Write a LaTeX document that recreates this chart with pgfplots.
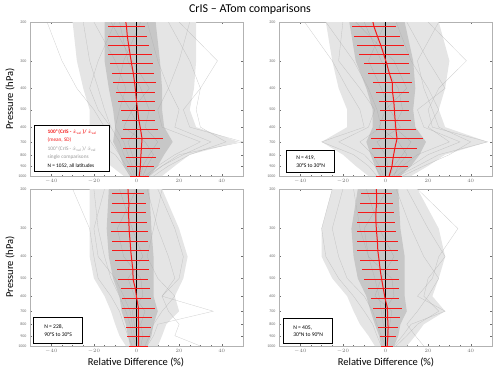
\documentclass[border=0pt]{standalone}
\usepackage{pgfplots}
\pgfplotsset{compat=1.18}
\usepackage{pgfplotstable}
\usepackage{fontspec}
\setmainfont{Carlito}
\definecolor{mred}{RGB}{245,25,25}
\definecolor{tickgray}{RGB}{110,110,110}

% mean and SD per level: p  mean  sd
\pgfplotstableread{
p m s
200 -5.0 0
210 -4.7 8.8
232 -4.3 9.2
255 -3.7 9.8
281 -3.0 10.2
310 -2.3 10.1
342 -1.5 9.8
377 -0.9 9.9
416 -0.4 9.0
458 0.0 8.5
505 0.6 8.0
557 1.1 7.8
614 1.9 8.1
677 2.6 10.0
746 2.3 8.5
823 2.0 7.0
907 1.8 6.2
1000 1.3 4.5
}\meanA
\pgfplotstableread{
p m s
200 -5.9 0
210 -5.4 10.5
232 -3.8 10.8
255 -2.2 11.0
281 -0.8 11.6
310 0.6 10.6
342 1.8 9.8
377 3.2 9.3
416 3.3 7.8
458 3.9 7.0
505 4.2 6.7
557 4.5 7.3
614 4.9 9.4
677 5.4 12.4
746 4.4 10.6
823 3.6 9.0
907 3.0 7.5
1000 1.7 6.0
}\meanB
\pgfplotstableread{
p m s
200 -4.0 0
210 -3.9 7.5
232 -3.6 7.9
255 -3.7 8.3
281 -3.6 8.6
310 -3.4 8.6
342 -3.0 8.6
377 -2.7 8.6
416 -2.2 8.1
458 -1.7 7.6
505 -1.6 7.0
557 -0.5 6.9
614 0.1 6.9
677 0.9 7.7
746 0.9 6.6
823 1.0 6.0
907 1.0 5.4
1000 1.0 4.4
}\meanC
\pgfplotstableread{
p m s
200 -4.3 0
210 -4.2 7.2
232 -4.2 7.8
255 -4.5 8.5
281 -4.5 9.0
310 -4.2 9.2
342 -3.8 9.5
377 -3.6 9.6
416 -3.0 9.0
458 -2.5 8.5
505 -1.8 8.3
557 -1.0 7.2
614 -0.2 6.7
677 0.9 6.8
746 1.0 5.6
823 1.2 4.6
907 1.1 3.8
1000 0.8 2.8
}\meanD

\pgfplotsset{
  mypanel/.style={
    scale only axis, width=213pt,
    xmin=-50, xmax=50, ymin=200, ymax=1000,
    xtick={-40,-20,0,20,40}, minor x tick num=3,
    ytick={200,300,400,500,600,700,800,900,1000},
    yticklabels={200,300,400,500,600,700,800,900,1000},
    yminorticks=false,
    tick align=inside, major tick length=2pt, minor tick length=1pt,
    tick style={tickgray, line width=0.3pt},
    axis line style={gray!60, line width=0.4pt},
    ticklabel style={font=\fontsize{4}{5}\selectfont, text=tickgray},
  },
  envout/.style={fill=gray!20, draw=none},
  envcore/.style={fill=gray!44, draw=none},
  oneline/.style={gray!65, line width=0.3pt, opacity=0.6},
  inline/.style={gray!85, line width=0.25pt, opacity=0.45},
  zeroln/.style={black, line width=0.7pt},
  meanln/.style={mred, line width=1pt},
}

\begin{document}
\begin{tikzpicture}[x=1pt,y=1pt]
\path (0,0) rectangle (500,-373);
\node[font=\fontsize{12}{14}\selectfont] at (250,-9) {CrIS – ATom comparisons};

% ---------- panel 1: all latitudes ----------
\begin{axis}[mypanel, ymode=log, y dir=reverse, height=154pt, at={(30pt,-176pt)}, anchor=south west]
\addplot[envout] coordinates {(-30,200) (-28,300) (-25,400) (-22,500) (-22,600) (-25,700) (-18,800) (-12,900) (-6,1000)
  (12,1000) (18,900) (25,800) (48,700) (28,600) (25,500) (27,400) (28,300) (28,200)};
\addplot[envcore] coordinates {(-15,200) (-15,300) (-13,400) (-11,500) (-10,600) (-11,700) (-8,800) (-6,900) (-3,1000)
  (6,1000) (10,900) (13,800) (17,700) (13,600) (12,500) (12,400) (11,300) (9,200)};
\addplot[oneline] coordinates {(-42,200) (-35,300) (-28,400) (-20,500) (-15,600) (-12,700) (-8,800) (-5,900) (-2,1000)};
\addplot[oneline] coordinates {(20,200) (38,300) (30,400) (22,500) (25,600) (50,700) (20,800) (12,900) (5,1000)};
\addplot[oneline] coordinates {(-25,200) (-22,300) (-18,400) (-15,500) (-12,600) (-20,700) (-10,800) (-6,900) (-3,1000)};
\addplot[oneline] coordinates {(15,200) (25,300) (30,400) (28,500) (30,600) (42,700) (25,800) (15,900) (8,1000)};
\addplot[oneline] coordinates {(5,200) (10,300) (15,400) (20,500) (18,600) (35,700) (22,800) (12,900) (6,1000)};
\addplot[oneline] coordinates {(-20,200) (-10,300) (-5,400) (-8,500) (-10,600) (-6,700) (-4,800) (-2,900) (0,1000)};
\addplot[oneline] coordinates {(25,200) (20,300) (15,400) (10,500) (12,600) (30,700) (18,800) (10,900) (4,1000)};
\addplot[oneline] coordinates {(-10,200) (-18,300) (-22,400) (-18,500) (-12,600) (-8,700) (-6,800) (-3,900) (-1,1000)};
\addplot[inline] coordinates {(-8,200) (-4,300) (2,400) (6,500) (4,600) (10,700) (6,800) (3,900) (2,1000)};
\addplot[inline] coordinates {(2,200) (-6,300) (-9,400) (-3,500) (1,600) (-4,700) (-2,800) (0,900) (1,1000)};
\addplot[inline] coordinates {(-12,200) (-2,300) (6,400) (-2,500) (-6,600) (4,700) (8,800) (5,900) (3,1000)};
\addplot[zeroln] coordinates {(0,200) (0,1000)};
\addplot[meanln, error bars/.cd, x dir=both, x explicit, error mark=none,
  error bar style={mred, line width=0.9pt}] table[x=m, y=p, x error=s] {\meanA};
\end{axis}

% ---------- panel 2: 30S to 30N ----------
\begin{axis}[mypanel, ymode=log, y dir=reverse, height=154pt, at={(279pt,-176pt)}, anchor=south west]
\addplot[envout] coordinates {(-28,200) (-25,300) (-22,400) (-18,500) (-18,600) (-30,700) (-20,800) (-14,900) (-8,1000)
  (12,1000) (20,900) (28,800) (48,700) (28,600) (25,500) (28,400) (30,300) (25,200)};
\addplot[envcore] coordinates {(-17,200) (-14,300) (-9,400) (-6,500) (-6,600) (-9,700) (-7,800) (-5,900) (-3,1000)
  (7,1000) (12,900) (16,800) (19,700) (14,600) (13,500) (14,400) (13,300) (9,200)};
\addplot[oneline] coordinates {(-38,200) (-25,300) (-18,400) (-12,500) (-10,600) (-30,700) (-15,800) (-8,900) (-4,1000)};
\addplot[oneline] coordinates {(20,200) (38,300) (25,400) (20,500) (22,600) (48,700) (25,800) (15,900) (6,1000)};
\addplot[oneline] coordinates {(25,200) (15,300) (18,400) (22,500) (25,600) (40,700) (30,800) (18,900) (8,1000)};
\addplot[oneline] coordinates {(-20,200) (-22,300) (-12,400) (-5,500) (-8,600) (-22,700) (-10,800) (-5,900) (-2,1000)};
\addplot[oneline] coordinates {(10,200) (20,300) (28,400) (15,500) (18,600) (35,700) (20,800) (12,900) (5,1000)};
\addplot[oneline] coordinates {(-28,200) (-15,300) (-8,400) (-4,500) (-2,600) (-12,700) (-6,800) (-3,900) (-1,1000)};
\addplot[oneline] coordinates {(5,200) (12,300) (20,400) (25,500) (20,600) (30,700) (15,800) (8,900) (3,1000)};
\addplot[inline] coordinates {(-10,200) (-2,300) (6,400) (8,500) (4,600) (12,700) (8,800) (4,900) (2,1000)};
\addplot[inline] coordinates {(0,200) (-8,300) (-2,400) (2,500) (7,600) (-4,700) (0,800) (1,900) (0,1000)};
\addplot[inline] coordinates {(-14,200) (4,300) (10,400) (0,500) (-3,600) (6,700) (10,800) (6,900) (4,1000)};
\addplot[zeroln] coordinates {(0,200) (0,1000)};
\addplot[meanln, error bars/.cd, x dir=both, x explicit, error mark=none,
  error bar style={mred, line width=0.9pt}] table[x=m, y=p, x error=s] {\meanB};
\end{axis}

% ---------- panel 3: 90S to 30S ----------
\begin{axis}[mypanel, ymode=log, y dir=reverse, height=157pt, at={(30pt,-346pt)}, anchor=south west]
\addplot[envout] coordinates {(-22,200) (-22,300) (-22,400) (-20,500) (-15,600) (-12,700) (-10,800) (-8,900) (-5,1000)
  (10,1000) (12,900) (14,800) (20,700) (18,600) (22,500) (24,400) (20,300) (12,200)};
\addplot[envcore] coordinates {(-13,200) (-14,300) (-13,400) (-11,500) (-8,600) (-7,700) (-5,800) (-4,900) (-3,1000)
  (5,1000) (7,900) (8,800) (10,700) (8,600) (8,500) (8,400) (7,300) (6,200)};
\addplot[oneline] coordinates {(-30,200) (-22,300) (-20,400) (-18,500) (-12,600) (-8,700) (-6,800) (-4,900) (-2,1000)};
\addplot[oneline] coordinates {(10,200) (18,300) (22,400) (20,500) (12,600) (36,700) (10,800) (8,900) (5,1000)};
\addplot[oneline] coordinates {(-20,200) (-18,300) (-15,400) (-12,500) (-8,600) (-5,700) (-3,800) (-2,900) (0,1000)};
\addplot[oneline] coordinates {(5,200) (10,300) (15,400) (18,500) (12,600) (15,700) (20,800) (18,900) (30,1000)};
\addplot[oneline] coordinates {(-15,200) (-20,300) (-18,400) (-10,500) (-6,600) (-3,700) (-2,800) (-1,900) (1,1000)};
\addplot[oneline] coordinates {(12,200) (8,300) (5,400) (10,500) (18,600) (12,700) (8,800) (6,900) (4,1000)};
\addplot[inline] coordinates {(-8,200) (-2,300) (3,400) (-4,500) (-1,600) (4,700) (2,800) (3,900) (2,1000)};
\addplot[inline] coordinates {(0,200) (-9,300) (-6,400) (2,500) (3,600) (-2,700) (-1,800) (0,900) (1,1000)};
\addplot[zeroln] coordinates {(0,200) (0,1000)};
\addplot[meanln, error bars/.cd, x dir=both, x explicit, error mark=none,
  error bar style={mred, line width=0.9pt}] table[x=m, y=p, x error=s] {\meanC};
\end{axis}

% ---------- panel 4: 30N to 90N ----------
\begin{axis}[mypanel, ymode=log, y dir=reverse, height=157pt, at={(279pt,-346pt)}, anchor=south west]
\addplot[envout] coordinates {(-25,200) (-30,300) (-30,400) (-25,500) (-18,600) (-15,700) (-12,800) (-8,900) (-5,1000)
  (10,1000) (14,900) (18,800) (28,700) (22,600) (25,500) (28,400) (25,300) (15,200)};
\addplot[envcore] coordinates {(-13,200) (-16,300) (-15,400) (-13,500) (-9,600) (-7,700) (-5,800) (-3,900) (-2,1000)
  (4,1000) (6,900) (7,800) (10,700) (9,600) (9,500) (9,400) (7,300) (6,200)};
\addplot[oneline] coordinates {(-25,200) (-30,300) (-28,400) (-22,500) (-15,600) (-10,700) (-6,800) (-4,900) (-2,1000)};
\addplot[oneline] coordinates {(15,200) (34,300) (25,400) (22,500) (15,600) (28,700) (12,800) (8,900) (4,1000)};
\addplot[oneline] coordinates {(10,200) (20,300) (28,400) (20,500) (18,600) (25,700) (15,800) (10,900) (5,1000)};
\addplot[oneline] coordinates {(-20,200) (-25,300) (-22,400) (-18,500) (-10,600) (-6,700) (-4,800) (-2,900) (0,1000)};
\addplot[oneline] coordinates {(5,200) (12,300) (18,400) (25,500) (20,600) (15,700) (10,800) (14,900) (18,1000)};
\addplot[oneline] coordinates {(-15,200) (-12,300) (-8,400) (-5,500) (-3,600) (-2,700) (-1,800) (0,900) (1,1000)};
\addplot[inline] coordinates {(-9,200) (-3,300) (4,400) (-2,500) (-5,600) (3,700) (2,800) (1,900) (1,1000)};
\addplot[inline] coordinates {(1,200) (-10,300) (-8,400) (3,500) (4,600) (-1,700) (0,800) (2,900) (0,1000)};
\addplot[zeroln] coordinates {(0,200) (0,1000)};
\addplot[meanln, error bars/.cd, x dir=both, x explicit, error mark=none,
  error bar style={mred, line width=0.9pt}] table[x=m, y=p, x error=s] {\meanD};
\end{axis}

% axis titles
\node[rotate=90, font=\fontsize{10.5}{12}\selectfont] at (10,-99) {Pressure (hPa)};
\node[rotate=90, font=\fontsize{10.5}{12}\selectfont] at (10,-267) {Pressure (hPa)};
\node[font=\fontsize{10.5}{12}\selectfont] at (136,-362) {Relative Difference (\%)};
\node[font=\fontsize{10.5}{12}\selectfont] at (386,-362) {Relative Difference (\%)};

% text boxes
\node[draw=black, line width=1.2pt, fill=white, anchor=north west, inner sep=2pt,
  align=left, font=\fontsize{5.3}{8.4}\selectfont, minimum width=75pt, minimum height=46pt] at (34,-125)
  {\textcolor{mred}{\textbf{100*(CrIS - $\hat{x}_{\mathrm{val}}$ )/ $\hat{x}_{\mathrm{val}}$}}\\
   \textcolor{mred}{(mean, SD)}\\
   \textcolor{gray!80}{100*(CrIS - $\hat{x}_{\mathrm{val}}$ )/ $\hat{x}_{\mathrm{val}}$}\\
   \textcolor{gray!80}{single comparisons}\\
   N = 1052, all latitudes};
\node[draw=black, line width=1.2pt, fill=white, anchor=north west, inner sep=3pt,
  align=left, font=\fontsize{5.6}{7.6}\selectfont, minimum width=48pt, minimum height=22pt] at (286,-150)
  {N = 419,\\30°S to 30°N};
\node[draw=black, line width=1.2pt, fill=white, anchor=north west, inner sep=3pt,
  align=left, font=\fontsize{5.6}{7.6}\selectfont, minimum width=49pt, minimum height=26pt] at (33,-317)
  {N = 228,\\90°S to 30°S};
\node[draw=black, line width=1.2pt, fill=white, anchor=north west, inner sep=3pt,
  align=left, font=\fontsize{5.6}{7.6}\selectfont, minimum width=49pt, minimum height=25pt] at (283,-318)
  {N = 405,\\30°N to 90°N};
\end{tikzpicture}
\end{document}
